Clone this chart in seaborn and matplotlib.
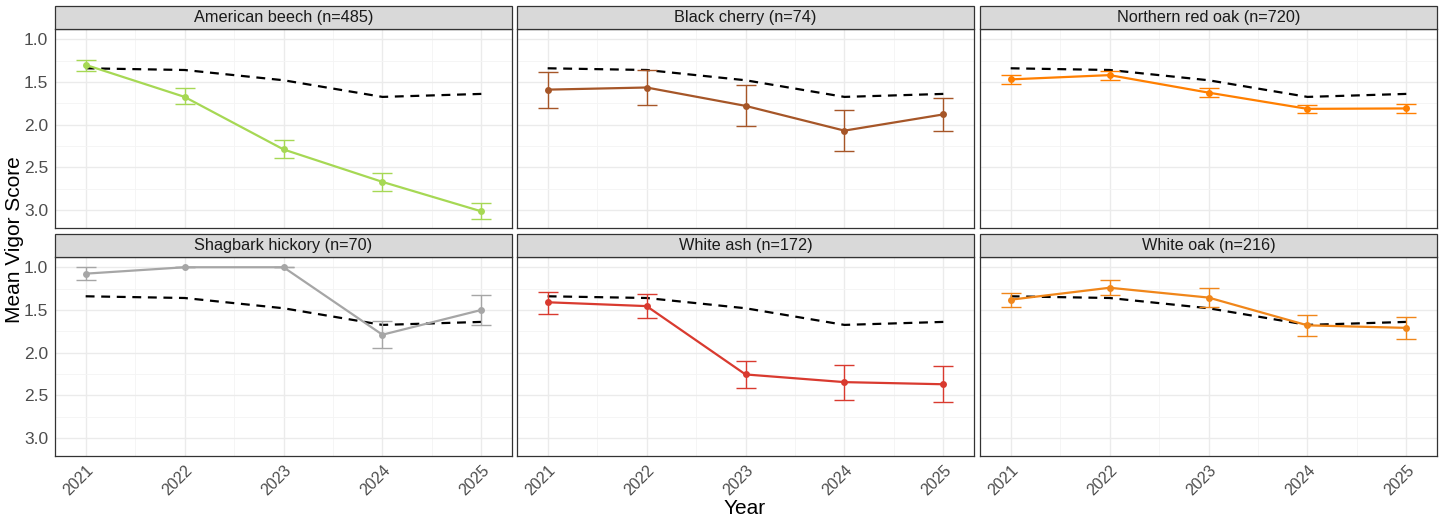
import matplotlib
matplotlib.use("Agg")
import matplotlib.pyplot as plt
import numpy as np
import pandas as pd
import seaborn as sns
from matplotlib.patches import Rectangle
from matplotlib.ticker import MultipleLocator, FixedLocator

# ---------------- data ----------------
years = [2021, 2022, 2023, 2024, 2025]

panel_titles = [
    "American beech (n=485)", "Black cherry (n=74)", "Northern red oak (n=720)",
    "Shagbark hickory (n=70)", "White ash (n=172)", "White oak (n=216)",
]
panel_colors = ["#A6D854", "#A65628", "#FF7F00", "#A6A6A6", "#D93A2F", "#F0861A"]

overall_mean = [1.34, 1.36, 1.48, 1.675, 1.64]

beech_mean = [1.30, 1.675, 2.29, 2.67, 3.015]
beech_lo = [1.24, 1.57, 2.185, 2.57, 2.92]
beech_hi = [1.37, 1.76, 2.39, 2.78, 3.11]

cherry_mean = [1.59, 1.565, 1.78, 2.07, 1.88]
cherry_lo = [1.38, 1.36, 1.54, 1.83, 1.69]
cherry_hi = [1.80, 1.77, 2.02, 2.31, 2.08]

redoak_mean = [1.47, 1.42, 1.625, 1.815, 1.81]
redoak_lo = [1.42, 1.37, 1.57, 1.775, 1.755]
redoak_hi = [1.52, 1.475, 1.68, 1.865, 1.86]

hickory_mean = [1.075, 1.0, 1.0, 1.79, 1.50]
hickory_lo = [1.0, 1.0, 1.0, 1.635, 1.32]
hickory_hi = [1.145, 1.0, 1.0, 1.94, 1.675]

ash_mean = [1.41, 1.455, 2.255, 2.345, 2.37]
ash_lo = [1.285, 1.315, 2.095, 2.14, 2.16]
ash_hi = [1.545, 1.60, 2.41, 2.55, 2.575]

whiteoak_mean = [1.38, 1.24, 1.355, 1.68, 1.71]
whiteoak_lo = [1.30, 1.15, 1.24, 1.56, 1.585]
whiteoak_hi = [1.47, 1.33, 1.465, 1.81, 1.835]

series = [
    (beech_mean, beech_lo, beech_hi),
    (cherry_mean, cherry_lo, cherry_hi),
    (redoak_mean, redoak_lo, redoak_hi),
    (hickory_mean, hickory_lo, hickory_hi),
    (ash_mean, ash_lo, ash_hi),
    (whiteoak_mean, whiteoak_lo, whiteoak_hi),
]

# ---------------- style ----------------
sns.set_theme(style="white")
plt.rcParams["font.family"] = ["Liberation Sans", "DejaVu Sans"]

W, H = 1450, 517
fig = plt.figure(figsize=(W / 100, H / 100), dpi=100)

col_left = [55, 517, 980]
col_w = 457
row_top = [29, 257]
row_h = 199
strip_h = 23

overall_df = pd.DataFrame({"Year": years, "Mean": overall_mean})

for i, (title, color, (m, lo, hi)) in enumerate(zip(panel_titles, panel_colors, series)):
    r, c = divmod(i, 3)
    left = col_left[c] / W
    bottom = 1 - (row_top[r] + row_h) / H
    ax = fig.add_axes([left, bottom, col_w / W, row_h / H])
    ax.set_facecolor("white")

    # grid
    ax.set_xlim(2020.69, 2025.31)
    ax.set_ylim(3.21, 0.88)
    ax.xaxis.set_major_locator(FixedLocator(years))
    ax.xaxis.set_minor_locator(MultipleLocator(0.5))
    ax.yaxis.set_major_locator(FixedLocator([1.0, 1.5, 2.0, 2.5, 3.0]))
    ax.yaxis.set_minor_locator(FixedLocator([1.25, 1.75, 2.25, 2.75]))
    ax.grid(which="major", color="#EBEBEB", lw=1.0, zorder=0)
    ax.grid(which="minor", color="#F4F4F4", lw=0.6, zorder=0)
    ax.set_axisbelow(True)

    df = pd.DataFrame({"Year": years, "Mean": m, "Lo": lo, "Hi": hi})

    sns.lineplot(data=overall_df, x="Year", y="Mean", ax=ax, color="black",
                 lw=1.6, dashes=False, zorder=3).lines[-1].set_dashes((4, 3))
    ax.errorbar(df["Year"], df["Mean"],
                yerr=[df["Mean"] - df["Lo"], df["Hi"] - df["Mean"]],
                fmt="none", ecolor=color, elinewidth=1.0, capsize=7,
                capthick=1.0, zorder=4)
    sns.lineplot(data=df, x="Year", y="Mean", ax=ax, color=color, lw=1.6,
                 marker="o", markersize=5, markeredgewidth=0, zorder=5)

    ax.set_xlabel("")
    ax.set_ylabel("")
    for sp in ax.spines.values():
        sp.set_visible(True)
        sp.set_color("#333333")
        sp.set_linewidth(0.9)

    ax.tick_params(axis="both", which="major", length=3, width=0.8, pad=2,
                   color="#333333", labelsize=12.5, labelcolor="#4D4D4D")
    ax.tick_params(axis="x", which="major", labelsize=11.5)
    ax.tick_params(axis="both", which="minor", length=0)
    if c == 0:
        ax.set_yticklabels(["1.0", "1.5", "2.0", "2.5", "3.0"])
    else:
        ax.tick_params(axis="y", which="major", length=0, labelleft=False)
    if r == 1:
        ax.set_xticklabels([str(y) for y in years], rotation=45, ha="right",
                           rotation_mode="anchor")
    else:
        ax.tick_params(axis="x", which="major", length=0, labelbottom=False)

    # facet strip
    ax.add_patch(Rectangle((0, 1), 1, strip_h / row_h, transform=ax.transAxes,
                           facecolor="#D9D9D9", edgecolor="#333333", lw=0.9,
                           clip_on=False, zorder=6))
    ax.text(0.5, 1 + strip_h / row_h / 2, title, transform=ax.transAxes,
            ha="center", va="center", fontsize=11.7, color="#1A1A1A", zorder=7)

fig.text(15 / W, 1 - 240 / H, "Mean Vigor Score", rotation=90, ha="center",
         va="center", fontsize=15, color="black")
fig.text(745 / W, 1 - 509 / H, "Year", ha="center", va="center", fontsize=15,
         color="black")

fig.savefig("out.png", dpi=100, facecolor="white")
